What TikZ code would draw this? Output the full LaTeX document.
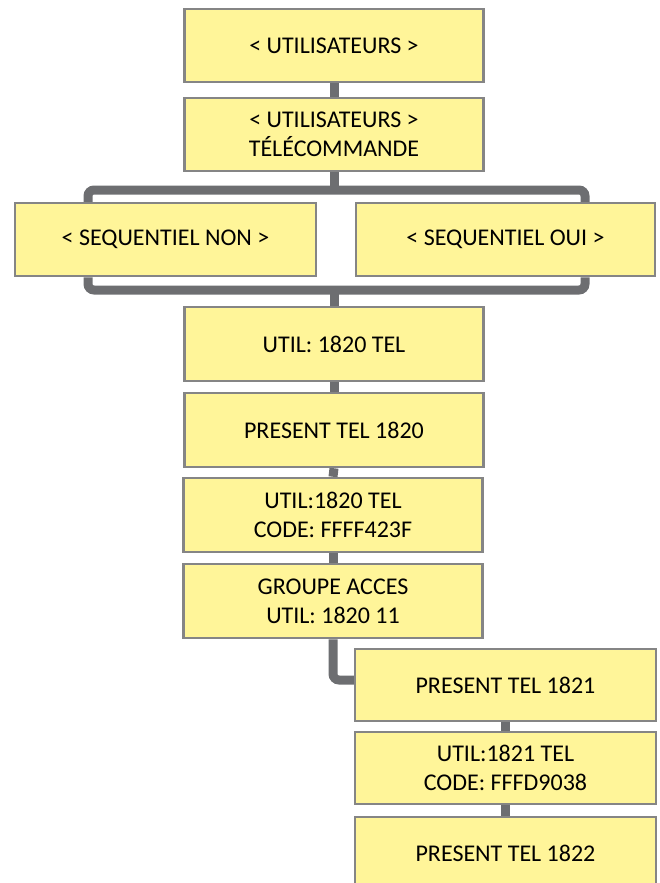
\documentclass[tikz,border=0pt]{standalone}
\usepackage{fontspec}
\setmainfont{Carlito}
\usetikzlibrary{backgrounds}
\definecolor{boxfill}{HTML}{FFF599}
\definecolor{boxline}{HTML}{858585}
\definecolor{connline}{HTML}{6D6E71}
\begin{document}
\begin{tikzpicture}[x=1pt,y=-1pt,
  box/.style={draw=boxline,fill=boxfill,line width=2.5pt,minimum width=299pt,
    minimum height=73pt,inner sep=0pt,align=center,
    font=\fontsize{24}{29}\selectfont},
  conn/.style={draw=connline,line width=9pt,rounded corners=6pt}]
\clip (0,0) rectangle (660,883);
\useasboundingbox (0,0) rectangle (660,883);
\node[box] (b1) at (334,45.5) {< UTILISATEURS >};
\node[box] (b2) at (334,134.5) {< UTILISATEURS >\\TÉLÉCOMMANDE};
\node[box,minimum width=301pt] (sn) at (165.5,239.5) {< SEQUENTIEL NON >};
\node[box] (so) at (505.5,239.5) {< SEQUENTIEL OUI >};
\node[box,minimum height=74pt] (u1) at (334,344) {UTIL: 1820 TEL};
\node[box,minimum height=74pt] (p0) at (334,430) {PRESENT TEL 1820};
\node[box,minimum height=74pt] (c0) at (333,515) {UTIL:1820 TEL\\CODE: FFFF423F};
\node[box,minimum height=74pt] (g) at (333,601) {GROUPE ACCES\\UTIL: 1820 11};
\node[box,minimum width=301pt,minimum height=72pt] (p1) at (505.5,685) {PRESENT TEL 1821};
\node[box,minimum width=301pt,minimum height=72pt] (c1) at (505.5,768) {UTIL:1821 TEL\\CODE: FFFD9038};
\node[box,minimum width=301pt,minimum height=72pt] (p2) at (505.5,853) {PRESENT TEL 1822};
\coordinate (tl) at (88,190);
\coordinate (tr) at (585,190);
\coordinate (bl) at (88,290);
\coordinate (br) at (585,290);
\begin{scope}[on background layer]
\draw[conn] (b1.south) -- (b2.north);
\draw[conn,rounded corners=0pt] (b2.south) -- (b2.south |- tl);
\draw[conn] (sn.north -| tl) -- (tl) -- (tr) -- (so.north -| tr);
\draw[conn] (sn.south -| bl) -- (bl) -- (br) -- (so.south -| br);
\draw[conn,rounded corners=0pt] (u1.north |- bl) -- (u1.north);
\draw[conn] (u1.south) -- (p0.north);
\draw[conn] (p0.south) -- (c0.north);
\draw[conn] (c0.south) -- (g.north);
\draw[conn] (g.south) |- ([yshift=5pt]p1.west);
\draw[conn] (p1.south) -- (c1.north);
\draw[conn] (c1.south) -- (p2.north);
\end{scope}
\end{tikzpicture}
\end{document}
